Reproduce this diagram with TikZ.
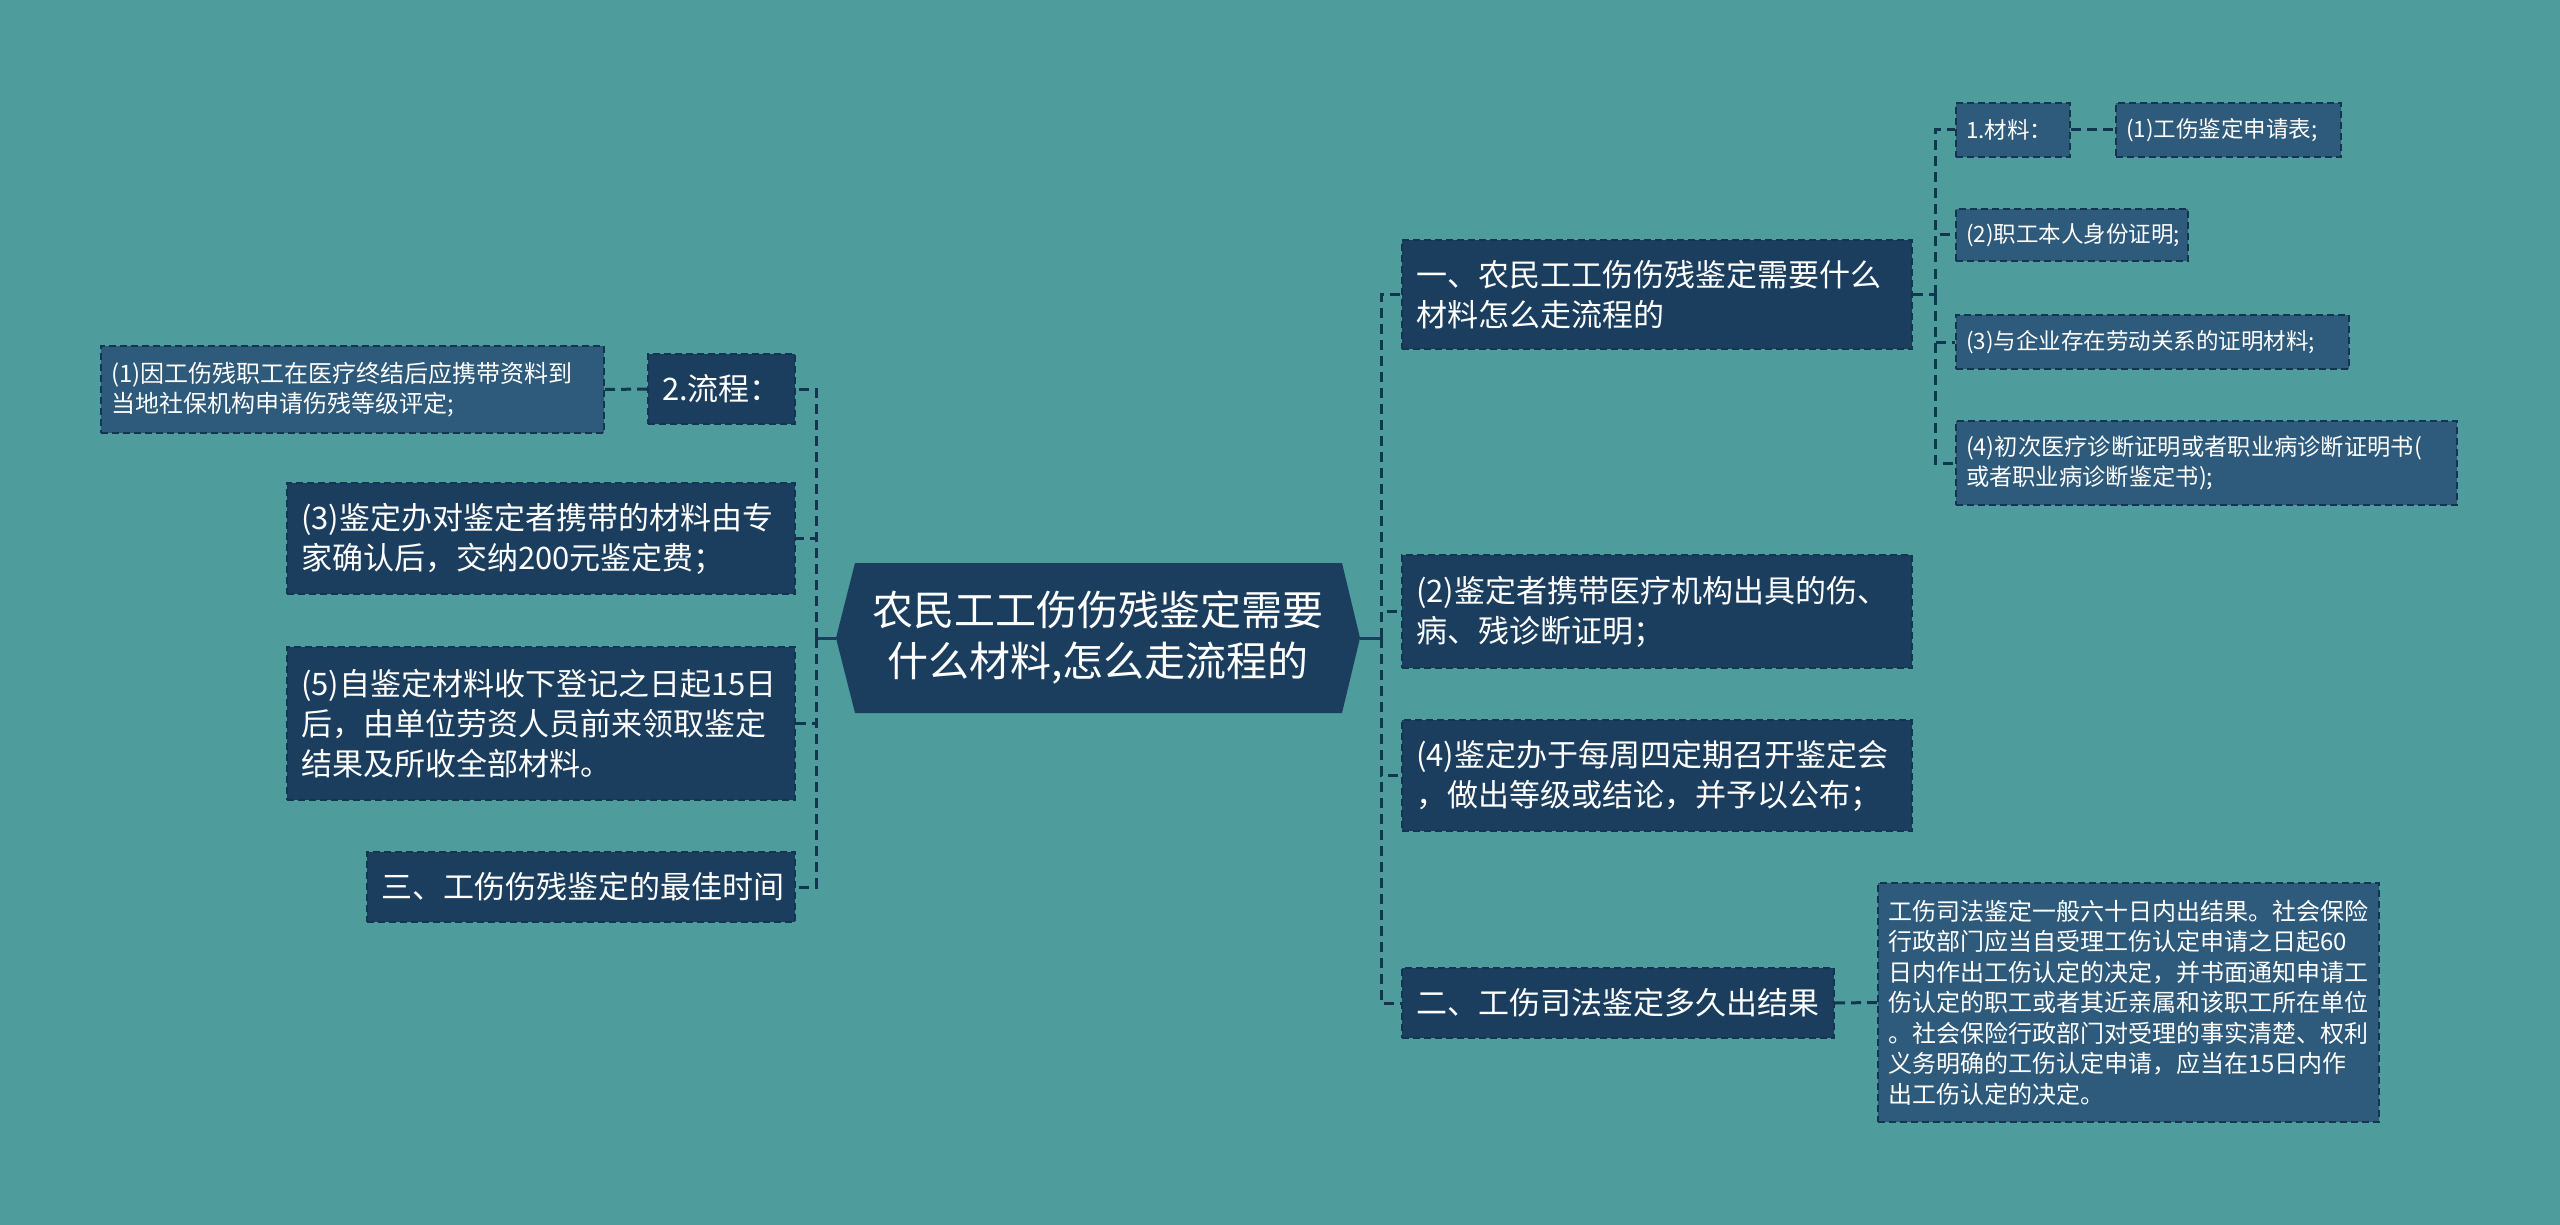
\documentclass[tikz,border=0pt]{standalone}
\usepackage{fontspec}
\setmainfont{Noto Sans CJK SC}
\usetikzlibrary{calc}
\definecolor{bgteal}{HTML}{4E9C9C}
\definecolor{darknode}{HTML}{1B3E5E}
\definecolor{lightnode}{HTML}{2E5A7B}
\definecolor{edgecol}{HTML}{143550}
\tikzset{
  box/.style={draw=edgecol, line width=2pt, dash pattern=on 7pt off 4pt, text=white, inner ysep=0pt, align=left, anchor=center},
  lvtwo/.style={box, fill=darknode, inner xsep=14pt, font=\fontsize{31}{40}\selectfont},
  lvthree/.style={box, fill=lightnode, inner xsep=10pt, font=\fontsize{22.5}{30.5}\selectfont},
  lvthreebig/.style={lvthree, font=\fontsize{24}{30.5}\selectfont},
  conn/.style={draw=edgecol, line width=3pt, dash pattern=on 10pt off 6pt},
  rootline/.style={draw=darknode, line width=3pt},
}
\begin{document}
\begin{tikzpicture}[x=1pt,y=-1pt]
\useasboundingbox (0,0) rectangle (2560,1225);
\fill[bgteal] (0,0) rectangle (2560,1225);

% root
\fill[darknode] (836,638) -- (855,563) -- (1342,563) -- (1360,638) -- (1342,713) -- (855,713) -- cycle;
\node[minimum width=524pt, minimum height=150pt, inner sep=0pt, text=white, align=center, font=\fontsize{41}{51}\selectfont] (root) at (1098,638) {农民工工伤伤残鉴定需要\\什么材料,怎么走流程的};

\coordinate (lt) at (816,638);
\coordinate (rt) at (1381,638);
\coordinate (st) at (1935,294.5);

% left nodes
\node[lvthreebig, minimum width=503pt, minimum height=87pt, text width=483pt] (c1) at (352.5,389.5) {(1)因工伤残职工在医疗终结后应携带资料到\\当地社保机构申请伤残等级评定;};
\node[lvtwo, minimum width=147pt, minimum height=70pt, text width=119pt] (c2) at (721.5,389) {2.流程：};
\node[lvtwo, minimum width=508pt, minimum height=111pt, text width=480pt] (c3) at (541,538.5) {(3)鉴定办对鉴定者携带的材料由专\\家确认后，交纳200元鉴定费；};
\node[lvtwo, minimum width=508pt, minimum height=153pt, text width=480pt] (c4) at (541,723.5) {(5)自鉴定材料收下登记之日起15日\\后，由单位劳资人员前来领取鉴定\\结果及所收全部材料。};
\node[lvtwo, minimum width=428pt, minimum height=70pt, text width=400pt] (c5) at (581,887) {三、工伤伤残鉴定的最佳时间};

% right nodes
\node[lvtwo, minimum width=510pt, minimum height=109pt, text width=482pt] (c6) at (1657,294.5) {一、农民工工伤伤残鉴定需要什么\\材料怎么走流程的};
\node[lvtwo, minimum width=510pt, minimum height=113pt, text width=482pt] (c7) at (1657,611.5) {(2)鉴定者携带医疗机构出具的伤、\\病、残诊断证明；};
\node[lvtwo, minimum width=510pt, minimum height=111pt, text width=482pt] (c8) at (1657,775.5) {(4)鉴定办于每周四定期召开鉴定会\\，做出等级或结论，并予以公布；};
\node[lvtwo, minimum width=432pt, minimum height=70pt, text width=404pt] (c9) at (1618,1003) {二、工伤司法鉴定多久出结果};
\node[lvthreebig, minimum width=501pt, minimum height=239pt, text width=481pt] (c10) at (2128.5,1002.5) {工伤司法鉴定一般六十日内出结果。社会保险\\行政部门应当自受理工伤认定申请之日起60\\日内作出工伤认定的决定，并书面通知申请工\\伤认定的职工或者其近亲属和该职工所在单位\\。社会保险行政部门对受理的事实清楚、权利\\义务明确的工伤认定申请，应当在15日内作\\出工伤认定的决定。};

\node[lvthree, minimum width=114pt, minimum height=54pt, text width=94pt] (c11) at (2013,130) {1.材料：};
\node[lvthree, minimum width=225pt, minimum height=54pt, text width=205pt] (c12) at (2228.5,130) {(1)工伤鉴定申请表;};
\node[lvthree, minimum width=232pt, minimum height=52pt, text width=212pt] (c13) at (2072,235) {(2)职工本人身份证明;};
\node[lvthree, minimum width=393pt, minimum height=54pt, text width=373pt] (c14) at (2152.5,342) {(3)与企业存在劳动关系的证明材料;};
\node[lvthree, font=\fontsize{23.3}{30.5}\selectfont, minimum width=501pt, minimum height=84pt, text width=481pt] (c15) at (2206.5,463) {(4)初次医疗诊断证明或者职业病诊断证明书(\\或者职业病诊断鉴定书);};

% connectors
\draw[rootline] (root.west) -- (lt);
\draw[rootline] (root.east) -- (rt);
\foreach \n in {c2,c3,c4,c5} \draw[conn] (lt) |- (\n.east);
\foreach \n in {c6,c7,c8,c9} \draw[conn] (rt) |- (\n.west);
\draw[conn] (c2.west) -- (c1.east);
\draw[conn] (c6.east) -- (st);
\foreach \n in {c11,c13,c14,c15} \draw[conn] (st) |- (\n.west);
\draw[conn] (c11.east) -- (c12.west);
\draw[conn] (c9.east) -- (c10.west);
\end{tikzpicture}
\end{document}
